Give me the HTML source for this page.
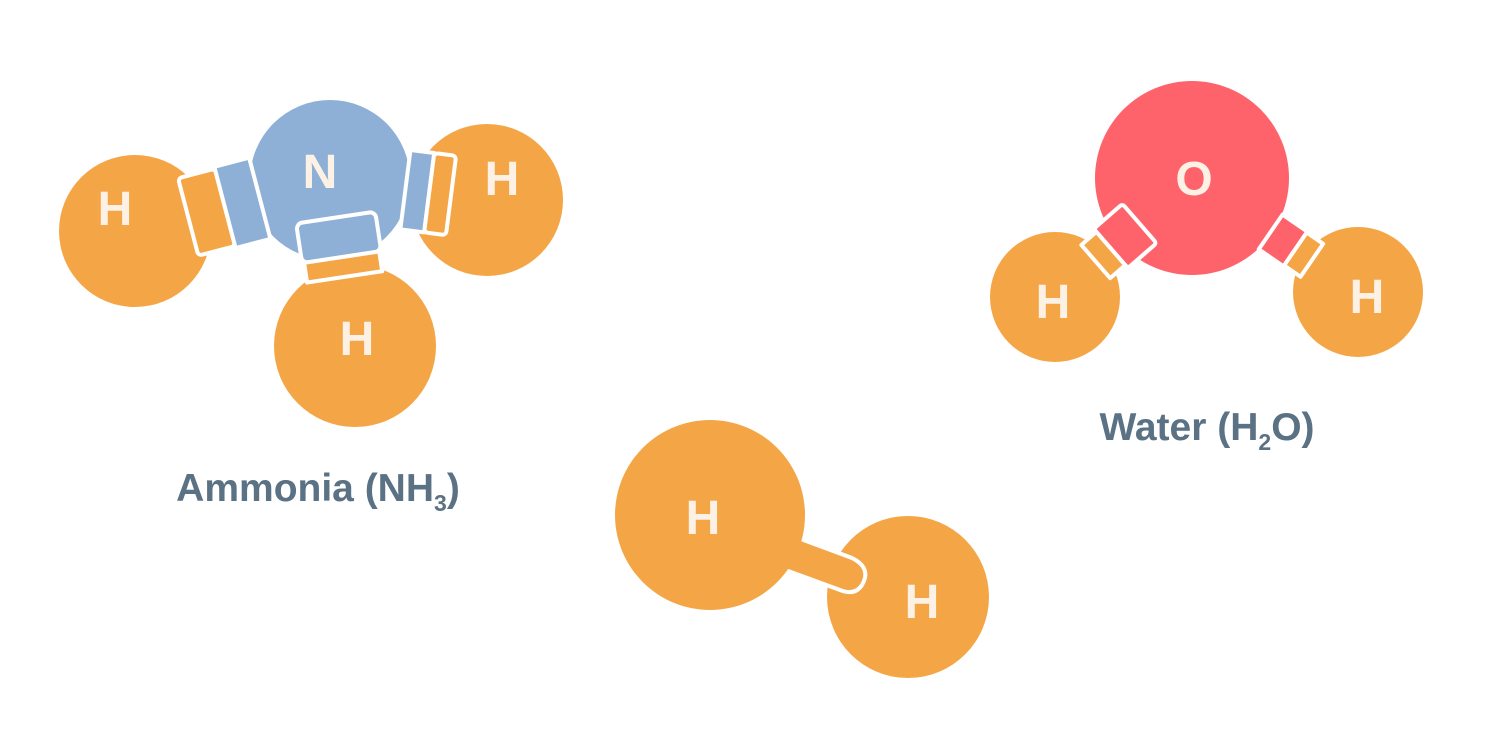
<!DOCTYPE html>
<html><head><style>
html,body{margin:0;padding:0;background:#fff;}
svg{display:block;}
.l{font-family:"Liberation Sans",sans-serif;font-weight:bold;fill:#fcf1e4;text-anchor:middle;}
.t{font-family:"Liberation Sans",sans-serif;font-weight:bold;fill:#5b7184;text-anchor:middle;font-size:39px;}
</style></head><body>
<svg width="1500" height="750" viewBox="0 0 1500 750">
<!-- Ammonia -->
<circle cx="135" cy="231" r="76" fill="#f4a647"/>
<circle cx="487" cy="200" r="76" fill="#f4a647"/>
<circle cx="355" cy="346" r="81" fill="#f4a647"/>
<circle cx="330" cy="180" r="80" fill="#8eb0d6"/>
<g stroke="#fff" stroke-width="4" stroke-linejoin="round">
 <g transform="translate(135,231) rotate(-14.7)">
  <rect x="55" y="-40" width="38" height="80" fill="#f4a647" rx="4"/>
  <rect x="93" y="-42" width="36" height="84" fill="#8eb0d6"/>
 </g>
 <g transform="translate(330,180) rotate(7.3)">
  <rect x="76" y="-40" width="24" height="80" fill="#8eb0d6"/>
  <rect x="100" y="-40" width="22" height="80" fill="#f4a647" rx="4"/>
 </g>
 <g transform="translate(330,180) rotate(81.4)">
  <rect x="38" y="-40" width="40" height="80" fill="#8eb0d6" rx="6"/>
  <rect x="78" y="-38" width="20" height="76" fill="#f4a647"/>
 </g>
</g>
<text class="l" x="320" y="188" font-size="48">N</text>
<text class="l" x="115" y="225" font-size="48">H</text>
<text class="l" x="502" y="195" font-size="48">H</text>
<text class="l" x="357" y="355" font-size="48">H</text>
<text class="t" x="318" y="501">Ammonia (NH<tspan font-size="23" dy="10">3</tspan><tspan dy="-10">)</tspan></text>

<!-- Water -->
<circle cx="1055" cy="297" r="65" fill="#f4a647"/>
<circle cx="1358" cy="292" r="65" fill="#f4a647"/>
<circle cx="1192" cy="178" r="97" fill="#fe636b"/>
<g stroke="#fff" stroke-width="4" stroke-linejoin="round">
 <g transform="translate(1055,297) rotate(-41)">
  <rect x="54" y="-22" width="20" height="44" fill="#f4a647"/>
  <rect x="74" y="-26" width="38" height="52" fill="#fe636b" rx="3"/>
 </g>
 <g transform="translate(1358,292) rotate(214.5)">
  <rect x="56" y="-20" width="20" height="40" fill="#f4a647"/>
  <rect x="76" y="-21" width="30" height="42" fill="#fe636b"/>
 </g>
</g>
<text class="l" x="1194" y="195" font-size="48">O</text>
<text class="l" x="1053" y="318" font-size="48">H</text>
<text class="l" x="1367" y="313" font-size="48">H</text>
<text class="t" x="1207" y="440">Water (H<tspan font-size="23" dy="10">2</tspan><tspan dy="-10">O)</tspan></text>

<!-- Hydrogen -->
<circle cx="908" cy="597" r="81" fill="#f4a647"/>
<path d="M790,535 L852,558 Q872,568 862,585 Q855,596 840,590 L780,568" fill="#f4a647" stroke="#fff" stroke-width="4"/>
<circle cx="710" cy="515" r="95" fill="#f4a647"/>
<text class="l" x="703" y="534" font-size="48">H</text>
<text class="l" x="922" y="618" font-size="48">H</text>
</svg>
</body></html>
